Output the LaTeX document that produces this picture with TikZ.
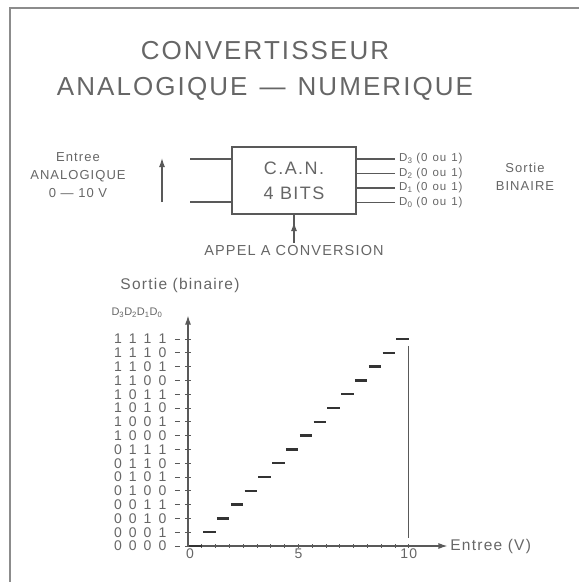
\documentclass[tikz,border=0pt]{standalone}
\usepackage{fontspec}
\setmainfont{Liberation Sans}[LetterSpace=8]
\usetikzlibrary{arrows.meta,calc}
\definecolor{encre}{gray}{0.40}
\definecolor{trait}{gray}{0.35}
\tikzstyle{txt}=[text=encre,inner sep=0pt]
\tikzstyle{fil}=[draw=trait,line width=1.2pt]
\tikzstyle{fin}=[draw=trait,line width=0.8pt]
\tikzstyle{fleche}=[fil,-{Latex[length=9pt,width=6pt]}]
\tikzstyle{boite}=[fil,txt,minimum width=124pt,minimum height=67pt,align=center,font=\fontsize{18}{25}\selectfont]
\tikzstyle{marche}=[draw=black!80,line width=2.4pt]
\tikzstyle{cadre}=[draw=black!45,line width=2pt]
\newcommand\bits[4]{\makebox[14.8pt]{#1}\makebox[14.8pt]{#2}\makebox[14.8pt]{#3}\makebox[14.8pt]{#4}}

\begin{document}
\begin{tikzpicture}[x=1pt,y=-1pt]
  \useasboundingbox (0,0) rectangle (579,582);
  \draw[cadre] (10,582) -- (10,8) -- (579,8);
  \node[txt,font=\fontsize{26}{36}\selectfont,align=center] (titre) at (265,71)
    {CONVERTISSEUR\\ANALOGIQUE\hspace{12pt}---\hspace{12pt}NUMERIQUE};

  \node[boite] (can) at (294,180.5) {C.A.N.\\4 BITS};
  \coordinate (e1) at (190,159);
  \coordinate (e2) at (190,202);
  \draw[fil] (e1) -- (can.west |- e1);
  \draw[fil] (e2) -- (can.west |- e2);
  \coordinate (fb) at (162,202);
  \coordinate (fh) at (162,158);
  \draw[fleche] (fb) -- (fh);
  \node[txt,font=\fontsize{13}{18}\selectfont,align=center] (entree) at (78,175)
    {Entree\\ANALOGIQUE\\0 --- 10 V};
  \foreach \i/\y in {3/159,2/173.5,1/188,0/202.5}{
    \coordinate (s\i) at (395,\y);
    \draw[fil] (can.east |- s\i) -- (s\i);
    \node[txt,anchor=west,font=\fontsize{11.5}{12}\selectfont] (d\i) at (399,\y)
      {D\textsubscript{\i}\hspace{4pt}(0\hspace{5pt}ou\hspace{5pt}1)};
  }
  \node[txt,font=\fontsize{13}{18}\selectfont,align=center] (sortie) at (525,177) {Sortie\\BINAIRE};
  \node[txt,outer sep=3pt,font=\fontsize{14.5}{16}\selectfont] (appel) at (294,251) {APPEL A CONVERSION};
  \coordinate (appelfl) at (294,222);
  \draw[fil] (appel.north) -- (can.south);
  \draw[fleche] (appel.north) -- (appelfl);

  \node[txt,font=\fontsize{15.5}{18}\selectfont] (ylab) at (180,285) {Sortie (binaire)};
  \node[txt,font=\fontsize{11}{13}\selectfont] (dddd) at (137,313)
    {D\textsubscript{3}D\textsubscript{2}D\textsubscript{1}D\textsubscript{0}};
  \begin{scope}[shift={(188,546)},x=13.8pt,y=13.8pt]
    \coordinate (O) at (0,0);
    \coordinate (yt) at (0,16.7);
    \coordinate (xt) at (18.8,0);
    \draw[fleche] (O) -- (yt);
    \draw[fleche] (O) -- (xt);
    \foreach \i in {1,...,16} \draw[fin] (\i,-0.12) -- (\i,0.15);
    \foreach \k in {0,...,15}{
      \pgfmathtruncatemacro\ba{div(\k,8)}
      \pgfmathtruncatemacro\bb{mod(div(\k,4),2)}
      \pgfmathtruncatemacro\bc{mod(div(\k,2),2)}
      \pgfmathtruncatemacro\bd{mod(\k,2)}
      \draw[fin] (-0.2,\k) -- (0.2,\k);
      \draw[fin] (-0.95,\k) -- (-0.6,\k);
      \node[txt,anchor=east,font=\fontsize{14}{15}\selectfont] (code\k) at (-1.3,\k) {\bits{\ba}{\bb}{\bc}{\bd}};
      \draw[marche] (\k+0.1,\k) -- (\k+1,\k);
    }
    \draw[fil] (16,14.5) -- (16,0.6);
    \node[txt,font=\fontsize{14}{15}\selectfont] (x0) at (0.15,-0.55) {0};
    \node[txt,font=\fontsize{14}{15}\selectfont] (x5) at (8,-0.55) {5};
    \node[txt,font=\fontsize{14}{15}\selectfont] (x10) at (16,-0.55) {10};
    \node[txt,anchor=west,font=\fontsize{15.5}{17}\selectfont] (xlab) at (19.0,0) {Entree (V)};
  \end{scope}
\end{tikzpicture}
\end{document}
